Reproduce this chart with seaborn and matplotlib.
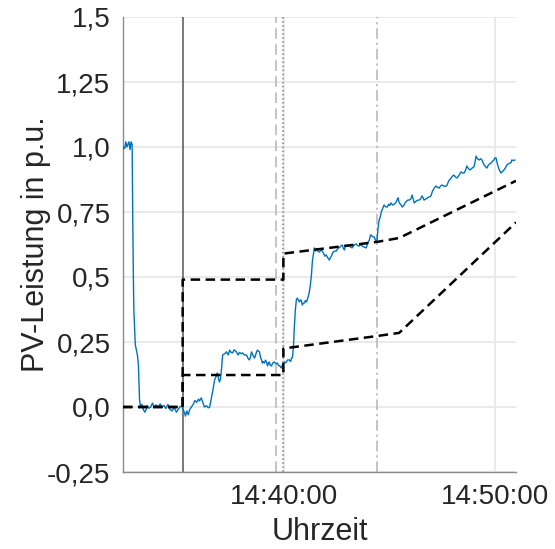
import pandas as pd
import numpy as np
import matplotlib.pyplot as plt
import matplotlib.dates as mdates
import seaborn as sns

# PV measurement, seconds after 14:30:00 and value in p.u.
t_pv = [139, 142, 145, 148, 151, 154, 157, 160, 163, 166, 168, 170, 171, 173, 175, 178, 181, 184, 187, 190,
        194, 198, 202, 206, 210, 214, 219, 224, 229, 234, 240, 246, 251, 257, 262, 268, 274, 280, 286, 292,
        297, 302, 307, 311, 315, 318, 322, 326, 330, 335, 340, 345, 350, 355, 358, 363, 367, 372, 378, 383,
        387, 392, 397, 401, 407, 409, 412, 415, 418, 421, 424, 430, 435, 440, 444, 448, 452, 457, 463, 468,
        472, 477, 481, 486, 492, 496, 500, 503, 506, 510, 515, 519, 523, 526, 529, 532, 535, 537, 540, 543,
        546, 549, 552, 555, 557, 560, 563, 567, 572, 576, 580, 583, 586, 589, 591, 595, 600, 604, 609, 614,
        618, 620, 623, 626, 628, 631, 634, 637, 640, 643, 646, 648, 651, 654, 657, 660, 663, 667, 671, 674,
        677, 680, 683, 685, 688, 691, 695, 700, 704, 708, 712, 715, 719, 723, 728, 731, 734, 737, 741, 745,
        748, 752, 756, 760, 765, 768, 771, 774, 776, 780, 785, 789, 793, 797, 801, 805, 809, 813, 817, 822,
        827, 833, 837, 842, 845, 847, 851, 856, 860, 862, 864, 867, 870, 873, 876, 879, 884, 888, 893, 897,
        900, 904, 908, 913, 917, 921, 924, 927, 931, 936, 940, 944, 947, 952, 956, 960, 964, 967, 970, 974,
        979, 984, 988, 992, 995, 998, 1003, 1008, 1012, 1017, 1022, 1027, 1032, 1036, 1041, 1045, 1049, 1054, 1059, 1064,
        1068, 1072, 1075, 1079, 1083, 1087, 1092, 1097, 1103, 1108, 1112, 1116, 1120, 1124, 1128, 1132, 1136, 1140, 1143, 1146,
        1150, 1155, 1159, 1163, 1166, 1169, 1173, 1177, 1181, 1185, 1189, 1193, 1197, 1200, 1203, 1206, 1209, 1213, 1217, 1221,
        1226, 1230, 1234, 1238, 1242, 1246, 1248, 1252, 1257]
p_pv = [0.99, 1.0, 0.995, 1.02, 1.0, 1.01, 1.02, 0.99, 1.02, 1.01, 0.7, 0.45, 0.37, 0.3, 0.24, 0.22, 0.2, 0.16, 0.03, 0.0,
        0.01, -0.01, -0.02, -0.01, 0.005, -0.005, 0.0, 0.015, -0.002, 0.008, 0.0, 0.012, 0.0, 0.006, -0.006, 0.01, -0.01, -0.015, 0.0, -0.02,
        -0.01, 0.0, 0.005, -0.01, -0.02, -0.035, -0.015, -0.03, -0.01, 0.0, 0.01, 0.025, 0.018, 0.03, 0.023, 0.035, 0.02, 0.0, 0.005, -0.003,
        0.0, 0.035, 0.07, 0.104, 0.123, 0.131, 0.11, 0.096, 0.11, 0.15, 0.2, 0.205, 0.212, 0.2, 0.219, 0.21, 0.208, 0.22, 0.212, 0.2,
        0.21, 0.205, 0.208, 0.2, 0.2, 0.188, 0.181, 0.19, 0.212, 0.2, 0.188, 0.205, 0.219, 0.215, 0.212, 0.19, 0.181, 0.169, 0.175, 0.169,
        0.18, 0.173, 0.158, 0.17, 0.173, 0.16, 0.158, 0.17, 0.173, 0.165, 0.169, 0.16, 0.158, 0.155, 0.15, 0.165, 0.173, 0.17, 0.181, 0.181,
        0.175, 0.188, 0.19, 0.238, 0.3, 0.37, 0.412, 0.419, 0.41, 0.404, 0.412, 0.41, 0.392, 0.4, 0.4, 0.41, 0.404, 0.42, 0.442, 0.47,
        0.508, 0.565, 0.59, 0.612, 0.6, 0.61, 0.6, 0.596, 0.604, 0.6, 0.59, 0.58, 0.585, 0.575, 0.565, 0.575, 0.58, 0.592, 0.598, 0.6,
        0.6, 0.61, 0.612, 0.618, 0.623, 0.61, 0.604, 0.62, 0.623, 0.62, 0.619, 0.615, 0.612, 0.62, 0.625, 0.627, 0.62, 0.619, 0.625, 0.619,
        0.615, 0.612, 0.63, 0.642, 0.66, 0.662, 0.655, 0.654, 0.64, 0.635, 0.645, 0.69, 0.719, 0.73, 0.75, 0.76, 0.777, 0.77, 0.769, 0.78,
        0.775, 0.785, 0.777, 0.78, 0.785, 0.796, 0.805, 0.785, 0.78, 0.769, 0.775, 0.785, 0.79, 0.796, 0.796, 0.8, 0.815, 0.8, 0.785, 0.79,
        0.795, 0.796, 0.8, 0.812, 0.805, 0.796, 0.8, 0.805, 0.808, 0.81, 0.83, 0.842, 0.85, 0.845, 0.842, 0.85, 0.854, 0.85, 0.848, 0.854,
        0.87, 0.875, 0.881, 0.888, 0.892, 0.885, 0.881, 0.89, 0.904, 0.9, 0.9, 0.91, 0.927, 0.918, 0.912, 0.915, 0.92, 0.923, 0.94, 0.965,
        0.955, 0.95, 0.955, 0.95, 0.94, 0.931, 0.925, 0.919, 0.93, 0.935, 0.938, 0.945, 0.95, 0.958, 0.958, 0.94, 0.925, 0.91, 0.9, 0.905,
        0.912, 0.92, 0.931, 0.935, 0.938, 0.94, 0.95, 0.948, 0.95]

# Upper and lower limit (dashed)
t_lim = [140, 310, 310, 597, 597, 864, 927, 1260]
p_upper = [0.0, 0.0, 0.49, 0.49, 0.59, 0.635, 0.65, 0.87]
p_lower = [0.0, 0.0, 0.123, 0.123, 0.225, 0.273, 0.285, 0.71]

# Event markers
t_events = [310, 577, 597, 864]
event_styles = ['-', (0, (7, 3.5)), ':', (0, (7, 2.5, 1.5, 2.5))]
event_colors = ['#555555', '#b4b4b4', '#808080', '#b4b4b4']

ytick_vals = [-0.25, 0, 0.25, 0.5, 0.75, 1.0, 1.25, 1.5]
ytick_labels = ['-0,25', '0,0', '0,25', '0,5', '0,75', '1,0', '1,25', '1,5']

base = pd.Timestamp('2021-01-01 14:30:00')
def to_time(secs):
    return base + pd.to_timedelta(secs, unit='s')

df_pv = pd.DataFrame({'Uhrzeit': to_time(t_pv), 'P': p_pv})
df_lim = pd.DataFrame({'Uhrzeit': to_time(t_lim), 'upper': p_upper, 'lower': p_lower})

sns.set_style('white')
plt.rcParams['font.family'] = ['Liberation Sans', 'DejaVu Sans']

fig = plt.figure(figsize=(5.55, 5.49), dpi=100)
ax = fig.add_axes([123 / 555, 77 / 549, 393 / 555, 455 / 549])

# grid
for v in ytick_vals:
    ax.axhline(v, color='#e8e8e8', lw=1.3, zorder=0)
for tt in [600, 1200]:
    ax.axvline(to_time(tt), color='#e8e8e8', lw=1.3, zorder=0)

for tt, ls, c in zip(t_events, event_styles, event_colors):
    ax.axvline(to_time(tt), color=c, lw=1.1, linestyle=ls, zorder=1)

sns.lineplot(data=df_pv, x='Uhrzeit', y='P', ax=ax, color='#0072BD', lw=1.0,
             estimator=None, sort=False, zorder=3)
sns.lineplot(data=df_lim, x='Uhrzeit', y='upper', ax=ax, color='black', lw=1.8,
             linestyle=(0, (3.8, 2.2)), estimator=None, sort=False, zorder=4)
sns.lineplot(data=df_lim, x='Uhrzeit', y='lower', ax=ax, color='black', lw=1.8,
             linestyle=(0, (3.8, 2.2)), estimator=None, sort=False, zorder=4)

ax.set_xlim(to_time(140), to_time(1260))
ax.set_ylim(-0.25, 1.5)
ax.set_yticks(ytick_vals)
ax.set_yticklabels(ytick_labels)
ax.set_xticks([to_time(600), to_time(1200)])
ax.xaxis.set_major_formatter(mdates.DateFormatter('%H:%M:%S'))

for s in ['top', 'right']:
    ax.spines[s].set_visible(False)
for s in ['left', 'bottom']:
    ax.spines[s].set_color('#8c8c8c')
    ax.spines[s].set_linewidth(1.0)

ax.tick_params(axis='both', direction='in', length=5, width=1.0, color='#404040',
               labelsize=20, labelcolor='#262626', pad=9)
ax.set_xlabel('Uhrzeit', fontsize=22, color='#262626', labelpad=5)
ax.set_ylabel('PV-Leistung in p.u.', fontsize=22, color='#262626', labelpad=-3)

fig.savefig('out.png', dpi=100)
